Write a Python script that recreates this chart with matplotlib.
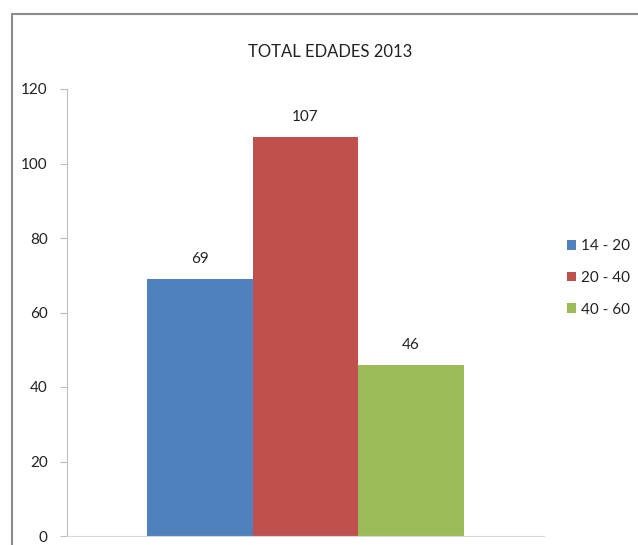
import matplotlib.pyplot as plt
from matplotlib.patches import Rectangle

title = 'TOTAL EDADES 2013'
series = ['14 - 20', '20 - 40', '40 - 60']
values = [69, 107, 46]
colors = ['#4F81BD', '#C0504D', '#9BBB59']
yticks = [0, 20, 40, 60, 80, 100, 120]

plt.rcParams['font.family'] = ['Lato', 'DejaVu Sans']
W, H = 638, 545
fig = plt.figure(figsize=(W / 100, H / 100), dpi=100)

# chart border (cropped at right and bottom in the reference)
fig.patches.append(Rectangle((12 / W, -0.1), 2, 1.1 - 14 / H, transform=fig.transFigure,
                             fill=False, edgecolor='#8c8c8c', lw=1.5))

ax = fig.add_axes([67 / W, (H - 536) / H, 477 / W, (536 - 89) / H])
bw = 0.2215
for i, (s, v, c) in enumerate(zip(series, values, colors)):
    x = (i - 1) * bw
    ax.bar(x, v, width=bw, color=c, label=s)
    ax.text(x, v + 3.5, str(v), ha='center', va='bottom', fontsize=11, color='#222222')

ax.set_xlim(-0.5, 0.5)
ax.set_ylim(0, 120)
ax.set_yticks(yticks)
ax.set_xticks([])
ax.tick_params(axis='y', direction='out', length=5, color='#bfbfbf', labelsize=11,
               labelcolor='#222222', pad=9)
for side in ['top', 'right']:
    ax.spines[side].set_visible(False)
ax.spines['left'].set_color('#bfbfbf')
ax.spines['bottom'].set_color('#d9d9d9')

fig.text(330 / W, 1 - 52 / H, title, ha='center', va='center', fontsize=12, color='#222222')

leg = ax.legend(loc='center left', bbox_to_anchor=(567 / W, 1 - 278 / H),
                bbox_transform=fig.transFigure, frameon=False, fontsize=11,
                borderpad=0, borderaxespad=0,
                handlelength=0.6, handleheight=0.6, handletextpad=0.3, labelspacing=1.15)
for t in leg.get_texts():
    t.set_color('#222222')

fig.savefig('out.png', dpi=100)
